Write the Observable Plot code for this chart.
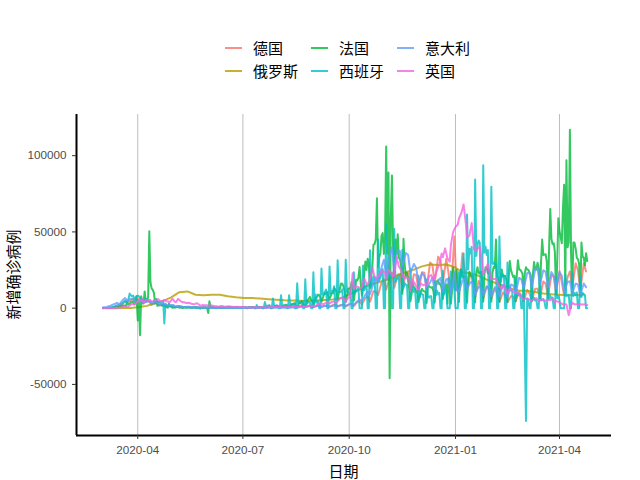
<!DOCTYPE html>
<html><head><meta charset="utf-8">
<script src="https://cdn.jsdelivr.net/npm/d3@7"></script>
<script src="https://cdn.jsdelivr.net/npm/@observablehq/plot@0.6"></script>
<style>
body{margin:0;background:#fff;}
#wrap{position:relative;width:640px;height:480px;overflow:hidden;}
#legend{position:relative;width:640px;height:95px;font-family:"Noto Sans CJK SC",sans-serif;font-size:15px;color:#000;}
.item{position:absolute;height:20px;}
.key{position:absolute;left:0;top:9px;width:17px;height:2px;opacity:0.8;}
.lab{position:absolute;left:28px;top:0;line-height:20px;white-space:nowrap;}
#chart svg{display:block;}
</style></head><body>
<div id="wrap"><div id="legend"></div><div id="chart"></div></div>
<script>
// ---- categories / colours ----
const countries = ["德国","俄罗斯","法国","西班牙","意大利","英国"];
const colors = ["#F8766D","#B79F00","#00BA38","#00BFC4","#619CFF","#F564E3"];
const xTickLabels = ["2020-04","2020-07","2020-10","2021-01","2021-04"];
const yTicks = [-50000, 0, 50000, 100000];
const firstMonday = "2020-03-02";
// offsets (days within each week, Monday = 0) for each series' readings
const dailyOffsets = [0,1,2,3,4,5,6];
const germanyOffsets = [0,3,5];
const italyOffsets = [0,3,5];
const ukOffsets = [0,2,4,6];
const russiaOffsets = [3];

// ---- values (thousands of new cases), one row per week from 2020-03-02 ----
const spain = [
[0.02,0.03,0.05,0.1,0.1,0.2,0.3],[0.5,0.6,0.8,1.0,1.5,1.8,2.0],[2.0,2.5,3.0,3.4,4.0,4.9,3.6],
[4.3,6.0,9.6,8.5,7.8,8.2,6.5],[6.4,8.0,8.2,7.7,7.0,6.0,5.5],[4.3,5.5,6.2,5.8,4.8,4.8,4.2],
[3.3,3.0,5.1,5.2,5.3,4.5,4.0],[4.0,4.2,4.2,4.6,-10.0,2.9,1.7],[1.8,1.7,1.2,1.5,1.8,1.3,0.8],
[0.5,0.8,1.0,1.1,1.0,0.9,0.8],[0.5,0.6,0.4,0.5,0.7,0.5,0.4],[0.3,0.4,0.5,0.4,0.3,0.3,0.2],
[-0.4,0.3,0.3,0.3,0.3,0.2,0.2],[0.2,0.3,0.3,0.4,0.3,0.3,0.2],[0.2,0.2,0.3,0.4,0.3,0.3,0.2],
[0.2,0.3,0.3,0.6,0.3,0.2,0.2],[0.2,0.3,0.3,0.4,0.3,0.2,0.2],[0.5,0.3,0.3,0.4,0.4,0,0],
[0.8,0.3,0.4,0.4,0.4,0,0],[2.0,0.6,0.5,0.6,0.7,0,0],[4.0,1.3,1.3,1.8,2.0,0,0],
[6.4,1.8,1.2,1.9,1.6,0,0],[8.5,1.5,1.8,1.7,1.9,0,0],[8.5,1.5,2.0,2.8,2.9,0,0],
[16.3,3.0,3.7,3.4,3.6,0,0],[19.0,2.5,3.6,3.8,3.8,0,0],[23.6,3.1,8.9,3.7,4.5,0,0],
[26.0,8.9,8.9,10.8,12.2,0,0],[27.4,9.4,11.2,11.3,14.4,0,0],[31.4,10.8,10.6,10.7,12.3,0,0],
[31.8,11.0,11.0,9.4,11.3,0,0],[23.5,10.0,11.0,12.4,12.8,0,0],[0,27.9,11.9,13.3,15.2,0,0],
[37.9,13.9,16.9,20.9,20.0,0,0],[45.0,18.4,19.8,23.6,25.6,0,0],[55.0,18.7,25.0,21.9,22.6,0,0],
[52.0,17.4,19.1,19.5,21.3,0,0],[38.3,13.2,16.4,15.2,15.2,0,0],[25.9,12.2,12.3,10.6,12.9,0,0],
[21.3,7.1,10.1,9.2,8.7,0,0],[19.0,8.0,6.9,7.9,7.8,0,0],[18.0,8.5,11.5,9.0,10.0,0,0],
[24.5,9.0,12.0,12.4,0,0,0],[24.0,14.0,17.7,12.0,0,0,0],[23.7,17.0,25.4,20.0,35.8,0,0],
[61.4,25.4,38.9,35.9,40.2,0,0],[84.3,34.3,41.6,44.4,42.9,0,0],[93.8,36.4,40.3,34.9,38.1,0,0],
[79.7,29.1,29.9,28.5,28.6,0,0],[47.0,17.0,20.6,22.2,20.1,0,0],[30.0,13.2,14.5,11.4,11.4,0,0],
[20.0,7.5,10.2,8.4,8.6,0,0],[16.0,-29.0,-74.0,6.4,5.3,0,0],[17.0,6.0,6.7,5.0,5.3,0,0],
[18.0,5.0,5.5,5.9,4.4,0,0],[15.0,6.0,8.1,6.5,7.0,0,0],[20.0,6.5,8.1,5.3,0,0,0],
[0,22.0,8.0,8.4,8.8,0,0],[23.0,8.0,10.0,8.5,10.3,0,0],[21.0,7.3,10.0,9.0,8.6,0,0]
];
const france = [
[0.03,0.05,0.06,0.07,0.1,0.2,0.3],[0.3,0.4,0.5,0.6,0.8,0.8,0.9],[1.2,1.1,1.4,1.8,1.6,1.8,1.6],
[3.8,2.4,2.9,3.9,3.8,4.6,2.6],[4.4,7.6,-8.0,4.8,-17.8,7.8,3.1],[3.1,11.0,4.3,4.8,7.0,50.5,17.0],
[13.0,12.0,10.0,3.0,6.0,1.5,2.0],[2.5,2.7,1.6,2.1,1.5,1.2,0.7],[0.3,3.0,1.2,0.9,0.2,0.5,0.4],
[0.6,1.1,1.0,0.3,0.6,0.3,0.1],[0.5,0.8,0.3,0.5,0.6,0.4,0.3],[0.5,0.3,0.5,0.3,0.3,0.4,0.2],
[0.3,0.4,0.3,0.4,0.5,0.3,0.3],[-3.2,4.5,0.8,0.7,0.6,0.5,0.2],[0.3,0.4,0.5,0.4,0.5,0.4,0.2],
[0.3,0.4,0.5,0.4,0.5,0.4,0.2],[0.3,0.5,0.5,0.6,0.5,0.4,0.2],[0.3,0.6,0.6,0.6,0.6,0.4,0.2],
[0.3,0.7,0.6,0.7,0.7,0.5,0.3],[0.4,0.5,0.6,0.8,0.7,0.6,0.2],[0.5,0.7,1.0,1.1,1.1,0.9,0.3],
[0.7,1.0,1.4,1.4,1.3,1.2,0.4],[1.0,1.0,1.7,1.6,2.3,2.1,0.5],[1.4,1.4,2.5,2.7,2.8,3.3,0.6],
[0.5,2.2,3.8,3.6,4.6,3.6,1.0],[1.6,3.3,5.4,6.1,7.4,5.4,4.9],[1.0,5.0,7.0,7.2,8.9,8.5,7.1],
[4.2,6.5,8.6,9.8,9.4,10.6,7.2],[6.2,7.9,10.0,9.8,13.2,12.3,10.6],[5.3,10.0,13.1,16.1,16.0,14.4,11.1],
[4.1,8.1,12.8,13.0,12.1,17.0,12.6],[5.0,10.5,18.7,18.1,20.3,27.0,16.1],[8.3,12.9,22.6,30.6,25.1,32.4,29.8],
[13.2,20.5,26.7,41.6,42.0,45.4,72.0],[26.8,33.4,36.4,47.6,49.2,35.6,46.3],[106.0,36.0,89.0,-46.0,60.0,87.0,38.6],
[20.0,45.0,35.9,48.5,33.0,32.0,27.0],[9.4,45.5,28.4,21.2,22.9,17.9,12.2],[4.5,9.2,16.3,13.6,12.5,11.2,9.8],
[4.0,8.1,10.9,12.7,11.2,11.0,11.0],[3.4,13.7,14.6,13.8,13.4,13.9,10.6],[3.7,14.9,17.6,18.3,15.7,15.9,13.0],
[5.9,11.8,14.9,15.6,3.1,19.6,12.0],[2.9,11.4,26.5,20.2,11.9,25.1,15.7],[4.0,20.5,25.4,21.7,20.2,20.2,15.9],
[3.6,19.8,23.9,21.3,21.2,21.4,16.6],[3.7,23.6,26.8,22.8,23.3,23.9,18.4],[4.2,22.1,26.9,26.7,22.9,24.9,19.2],
[4.3,23.3,27.0,26.4,45.0,20.6,19.7],[4.3,18.9,25.4,20.7,21.2,21.2,18.2],[4.0,19.6,31.0,25.0,22.5,20.4,21.2],
[4.4,21.0,31.5,25.4,25.2,24.1,22.4],[4.7,23.1,26.8,25.3,25.2,23.5,21.8],[4.4,22.3,30.3,25.5,25.2,29.8,26.3],
[6.5,29.9,45.0,34.9,35.1,35.3,30.6],[6.5,40.0,65.0,45.6,41.9,42.6,37.0],[9.1,29.3,59.0,50.7,46.7,42.6,66.0],
[81.0,12.0,97.0,40.0,43.0,117.0,35.0],[10.0,43.0,43.0,39.0,33.0,32.0,29.0],[8.0,43.0,34.0,33.0,28.0,36.0,31.0]
];
const germany = [
[0.03,0.1,0.2],[0.3,0.9,1.2],[1.0,2.8,4.5],[4.2,4.9,6.3],[4.4,6.2,5.9],[3.7,5.3,4.1],
[2.1,3.4,3.2],[1.8,2.4,1.5],[1.0,1.5,0.9],[0.7,1.2,0.7],[0.6,0.8,0.6],[0.4,0.7,0.5],
[0.3,0.4,0.4],[0.2,0.3,0.4],[0.2,0.3,0.2],[0.2,0.5,0.8],[0.5,0.6,0.5],[0.3,0.4,0.4],
[0.2,0.4,0.4],[0.2,0.5,0.4],[0.3,0.6,0.6],[0.4,0.9,0.9],[0.5,1.0,1.1],[0.6,1.4,1.4],
[0.6,1.7,2.0],[0.7,1.6,1.5],[0.6,1.5,1.4],[0.8,1.5,1.6],[0.9,2.2,2.3],[1.0,2.0,2.5],
[1.2,2.5,2.6],[1.4,4.0,4.7],[2.5,6.6,7.8],[4.3,11.2,10.5],[8.7,16.8,19.0],[12.1,19.9,23.4],
[13.4,21.9,22.5],[10.8,23.6,22.9],[10.9,22.2,21.7],[11.2,23.5,23.3],[12.3,30.0,28.4],[16.4,33.8,31.3],
[16.6,32.2,22.8],[9.0,47.0,12.0],[9.8,36.0,24.7],[12.5,22.4,18.7],[7.1,17.9,13.9],[6.4,14.1,12.3],
[6.1,12.9,9.9],[4.0,10.2,8.5],[3.9,7.9,7.7],[4.4,10.6,8.4],[4.7,11.9,9.6],[5.0,12.8,12.7],
[6.6,17.5,16.0],[7.7,21.6,20.5],[9.9,24.3,17.0],[8.5,20.4,24.1],[13.2,29.4,24.7],[11.4,29.5,24.1]
];
const italy = [
[0.6,0.8,1.2],[1.8,2.7,3.5],[2.5,5.3,6.6],[4.8,6.2,5.9],[4.1,4.7,4.8],[3.6,4.2,4.7],
[3.2,3.8,3.5],[2.3,3.4,2.4],[1.7,2.1,1.9],[1.2,1.4,1.1],[0.7,1.0,0.9],[0.5,0.6,0.7],
[0.3,0.6,0.4],[0.2,0.5,0.3],[0.2,0.4,0.3],[0.2,0.3,0.3],[0.2,0.3,0.3],[0.1,0.2,0.2],
[0.1,0.2,0.2],[0.1,0.2,0.2],[0.1,0.3,0.3],[0.2,0.4,0.3],[0.2,0.4,0.3],[0.3,0.5,0.6],
[0.3,0.9,1.1],[0.9,1.4,1.5],[1.0,1.4,1.7],[1.1,1.6,1.5],[1.0,1.6,1.6],[1.4,1.9,1.9],
[1.5,2.5,2.8],[2.3,4.5,5.7],[4.6,8.8,10.9],[9.3,16.1,19.6],[17.0,26.8,31.8],[22.3,34.5,39.8],
[25.3,37.9,37.3],[27.4,36.2,34.8],[22.9,29.0,26.3],[16.4,23.0,21.1],[13.7,16.9,19.9],[12.0,18.2,19.9],
[10.9,19.0,19.0],[8.6,23.5,11.8],[10.8,18.0,19.9],[12.5,17.2,16.3],[8.8,14.1,13.3],[8.6,14.4,13.6],
[7.9,13.7,12.7],[7.9,15.1,13.9],[7.4,15.5,14.9],[9.6,19.9,18.9],[13.1,22.9,23.6],[13.9,25.7,26.8],
[15.3,24.9,23.8],[13.8,23.7,21.3],[12.9,23.6,21.3],[10.7,17.2,17.6],[9.8,16.2,15.4],[8.9,16.2,13.8]
];
const uk = [
[0.01,0.02,0.05,0.06],[0.07,0.1,0.2,0.2],[0.2,0.7,0.7,1.0],[1.0,1.5,2.9,2.4],[2.6,4.3,4.5,5.9],
[3.8,5.5,5.2,5.3],[4.3,4.6,5.6,5.9],[4.7,4.5,5.4,4.5],[4.3,4.1,6.2,4.3],[3.9,6.1,4.6,3.9],
[3.9,3.4,3.6,3.1],[2.7,2.5,3.3,2.4],[1.6,2.0,1.9,1.9],[1.6,1.9,1.6,1.3],[1.2,1.0,1.5,1.2],
[1.0,1.1,1.2,0.9],[0.9,0.7,0.9,0.8],[0.8,0.8,0.6,0.5],[0.5,0.6,0.5,0.7],[0.6,0.5,0.8,0.7],
[0.5,0.6,0.8,0.7],[0.7,0.8,0.9,0.7],[0.7,0.9,0.9,1.0],[0.9,1.0,1.4,1.0],[0.8,0.8,1.0,1.0],
[0.9,1.3,1.2,1.7],[1.4,1.5,2.9,3.0],[2.9,2.7,3.5,3.3],[3.1,4.1,4.3,3.9],[4.4,6.2,6.9,5.7],
[4.0,7.1,6.9,22.9],[12.6,14.2,13.9,12.9],[13.9,19.7,15.7,16.9],[18.8,26.7,20.5,19.8],[20.9,22.9,24.4,23.3],
[18.9,25.2,23.3,20.6],[21.4,33.5,27.3,24.9],[21.4,19.6,20.2,18.7],[11.3,18.2,16.0,12.2],[12.3,16.2,15.0,15.5],
[14.7,20.9,21.7,18.4],[20.2,25.2,28.5,35.9],[33.4,39.2,32.7,30.5],[41.4,50.0,53.3,54.9],[58.8,62.3,68.0,54.9],
[46.2,47.5,55.8,38.6],[37.5,38.9,40.3,30.0],[22.2,25.3,29.1,21.1],[18.6,19.2,19.1,15.8],[14.1,13.0,15.1,10.9],
[9.8,12.7,12.0,9.8],[10.6,9.9,8.5,6.0],[5.5,6.4,6.1,5.2],[4.7,6.0,6.6,4.6],[5.1,5.8,4.8,5.3],
[5.3,5.3,6.4,3.9],[4.7,4.1,3.4,2.3],[2.7,2.4,-4.6,1.7],[3.6,2.5,2.6,1.9],[2.5,2.4,2.6,2.0]
];
const russia = [
0,0.005,0.03,0.1,0.8,1.5,3.4,4.8,7.1,10.5,11.0,8.8,8.4,8.8,8.8,7.8,7.1,6.6,6.6,6.4,
5.9,5.5,5.2,5.1,4.9,4.7,5.1,5.4,5.7,6.6,8.9,11.5,14.2,16.0,17.7,19.4,21.6,23.6,25.3,27.4,
28.6,28.3,28.6,27.0,23.6,22.9,21.2,18.7,16.7,14.7,12.8,11.5,11.4,10.6,9.6,9.1,8.8,8.4,8.6,9.0
];

// ---- build long table ----
const DAY = 864e5;
const start = Date.parse(firstMonday + "T00:00:00Z");
const rows = [];
function addSeries(country, weeks, offsets) {
  weeks.forEach((vals, i) => vals.forEach((v, j) => rows.push({
    country, date: new Date(start + (7 * i + offsets[j]) * DAY), value: v * 1000
  })));
}
addSeries("德国", germany, germanyOffsets);
addSeries("俄罗斯", russia.map(v => [v]), russiaOffsets);
addSeries("法国", france, dailyOffsets);
addSeries("西班牙", spain, dailyOffsets);
addSeries("意大利", italy, italyOffsets);
addSeries("英国", uk, ukOffsets);

const xTicks = xTickLabels.map(s => new Date(s + "-01T00:00:00Z"));
const xDomain = [new Date("2020-02-08T00:00:00Z"), new Date("2021-05-16T00:00:00Z")];
const yDomain = [-83500, 127000];

// ---- legend (HTML, above the SVG) ----
const legend = document.getElementById("legend");
const colX = [225, 311, 397], rowY = [38, 61];
countries.forEach((c, i) => {
  const col = Math.floor(i / 2), row = i % 2;
  const item = document.createElement("div");
  item.className = "item";
  item.style.left = colX[col] + "px";
  item.style.top = rowY[row] + "px";
  item.innerHTML = `<div class="key" style="background:${colors[i]}"></div><div class="lab">${c}</div>`;
  legend.appendChild(item);
});

// ---- chart ----
const H = 385;
const chart = Plot.plot({
  width: 640, height: H,
  marginTop: 19, marginBottom: 45, marginLeft: 76, marginRight: 29,
  style: {fontFamily: "'Liberation Sans', Arial, sans-serif", fontSize: "11.7px", background: "white", overflow: "visible"},
  x: {type: "utc", domain: xDomain},
  y: {domain: yDomain},
  color: {domain: countries, range: colors},
  marks: [
    Plot.gridX(xTicks, {stroke: "#BEBEBE", strokeOpacity: 1, strokeWidth: 1}),
    Plot.line(rows, {x: "date", y: "value", z: "country", stroke: "country", strokeWidth: 2, strokeOpacity: 0.8}),
    Plot.ruleX([xDomain[0]], {stroke: "black", strokeWidth: 2}),
    Plot.ruleY([yDomain[0]], {stroke: "black", strokeWidth: 2}),
    Plot.axisX(xTicks, {tickFormat: d3.utcFormat("%Y-%m"), tickSize: 4, tickPadding: 6, label: null, color: "#4D4D4D", stroke: "#333"}),
    Plot.axisY(yTicks, {tickFormat: d => String(d), tickSize: 4, tickPadding: 6, label: null, color: "#4D4D4D", stroke: "#333"})
  ]
});
document.getElementById("chart").appendChild(chart);

// axis titles
const svg = d3.select(chart);
svg.append("text").text("日期")
  .attr("x", (76 + 611) / 2).attr("y", 470 - 95)
  .attr("text-anchor", "middle").attr("dominant-baseline", "central")
  .attr("font-family", "'Noto Sans CJK SC', sans-serif").attr("font-size", 15).attr("fill", "#000");
svg.append("text").text("新增确诊病例")
  .attr("transform", `translate(12,${(114 + 435) / 2 - 95}) rotate(-90)`)
  .attr("text-anchor", "middle").attr("dominant-baseline", "central")
  .attr("font-family", "'Noto Sans CJK SC', sans-serif").attr("font-size", 15).attr("fill", "#000");
</script>
</body></html>
